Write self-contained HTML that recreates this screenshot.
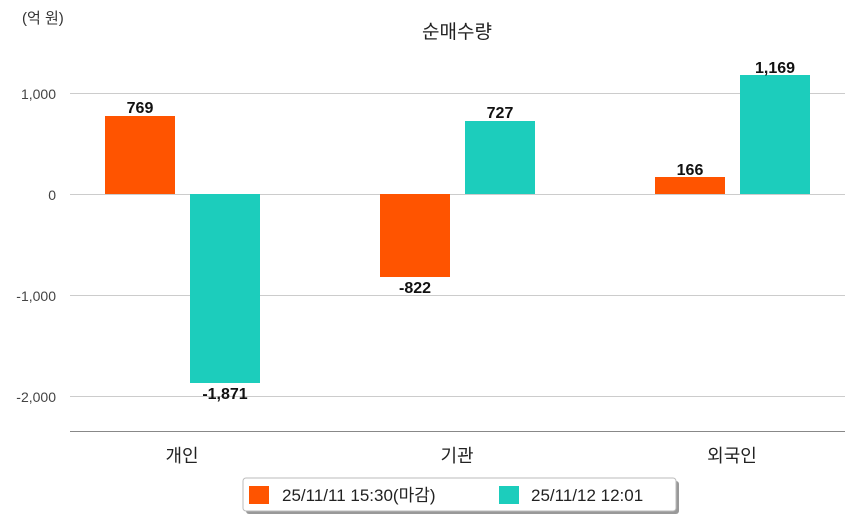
<!DOCTYPE html>
<html><head><meta charset="utf-8"><style>
body{margin:0;background:#fff}
svg{display:block;font-family:"Liberation Sans","Noto Sans CJK KR",sans-serif}
</style></head><body>
<svg width="854" height="520" viewBox="0 0 854 520">
<text x="22" y="23" font-size="15" fill="#333">(억 원)</text>
<text x="457" y="38" font-size="19" fill="#222" text-anchor="middle">순매수량</text>
<g stroke="#ccc" stroke-width="1">
<line x1="70" y1="93.5" x2="845" y2="93.5"/>
<line x1="70" y1="194.5" x2="845" y2="194.5"/>
<line x1="70" y1="295.5" x2="845" y2="295.5"/>
<line x1="70" y1="396.5" x2="845" y2="396.5"/>
</g>
<line x1="70" y1="431.5" x2="845" y2="431.5" stroke="#888" stroke-width="1"/>
<g font-size="14" fill="#444" text-anchor="end">
<text x="56" y="99">1,000</text>
<text x="56" y="200">0</text>
<text x="56" y="301">-1,000</text>
<text x="56" y="402">-2,000</text>
</g>
<g fill="#ff5400">
<rect x="105" y="116" width="70" height="78"/>
<rect x="380" y="194" width="70" height="83"/>
<rect x="655" y="177" width="70" height="17"/>
</g>
<g fill="#1ccdbc">
<rect x="190" y="194" width="70" height="189"/>
<rect x="465" y="121" width="70" height="73"/>
<rect x="740" y="75" width="70" height="119"/>
</g>
<g font-size="16" font-weight="bold" fill="#111" text-anchor="middle">
<text x="140" y="113">769</text>
<text x="225" y="399">-1,871</text>
<text x="415" y="293">-822</text>
<text x="500" y="118">727</text>
<text x="690" y="175">166</text>
<text x="775" y="73">1,169</text>
</g>
<g font-size="18" fill="#222" text-anchor="middle">
<text x="182" y="462">개인</text>
<text x="457" y="462">기관</text>
<text x="732" y="462">외국인</text>
</g>
<rect x="246" y="481" width="433" height="33" rx="3" fill="#999"/>
<rect x="243" y="478" width="433" height="33" rx="3" fill="#fff" stroke="#bbb"/>
<rect x="249" y="486" width="20" height="18" fill="#ff5400"/>
<text x="282" y="501" font-size="17" fill="#222">25/11/11 15:30(마감)</text>
<rect x="499" y="486" width="20" height="18" fill="#1ccdbc"/>
<text x="531" y="501" font-size="17" fill="#222">25/11/12 12:01</text>
</svg>
</body></html>
